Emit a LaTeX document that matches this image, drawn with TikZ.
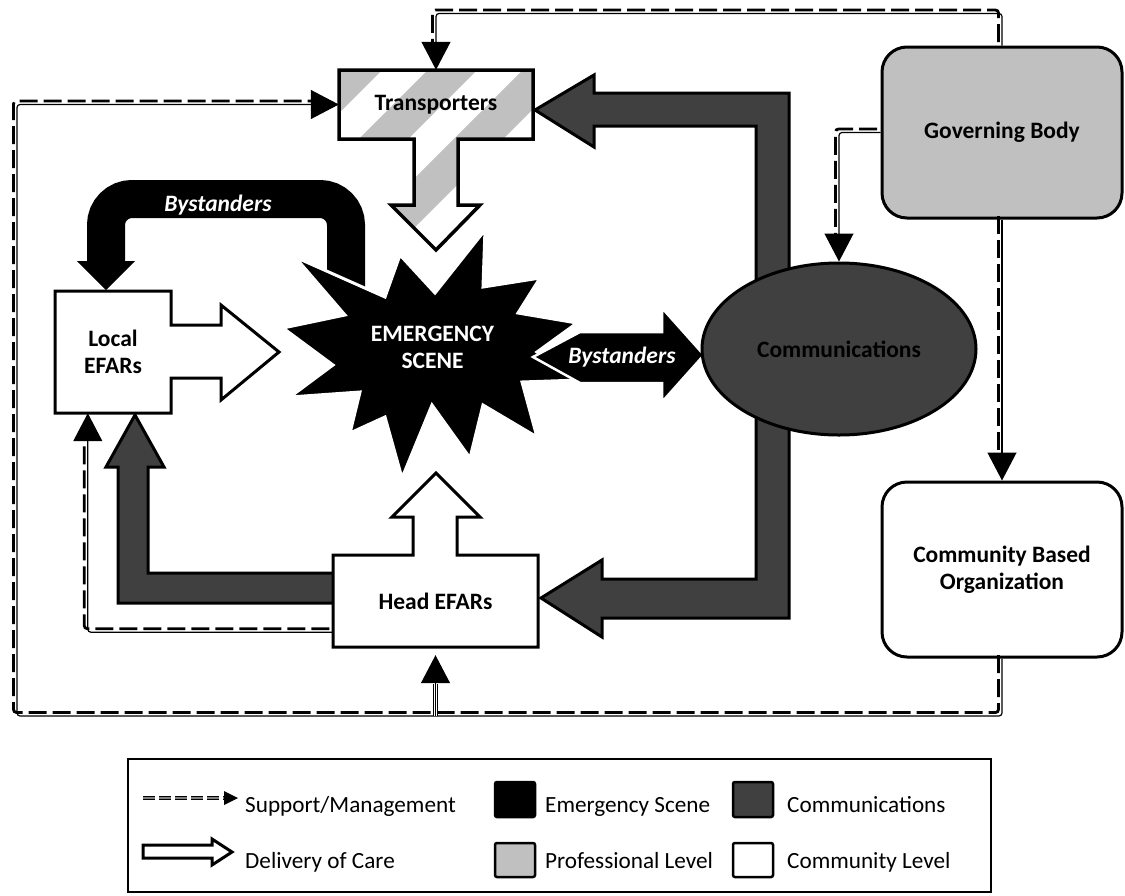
\documentclass[tikz,border=0pt]{standalone}
\usepackage{fontspec}
\setmainfont{Carlito}
\usetikzlibrary{arrows.meta,shapes.geometric,calc}
\definecolor{lgray}{HTML}{C0C0C0}
\definecolor{dgray}{HTML}{404040}
\tikzset{
 lbl/.style={font=\fontsize{23.5}{27}\selectfont\bfseries, align=center, inner sep=0pt},
 ltxt/.style={font=\fontsize{23.2}{27}\selectfont, anchor=base west, inner sep=0pt},
 shapeline/.style={draw=black, line width=3pt, line join=miter},
 supthin/.style={line width=1.2pt, rounded corners=3pt},
 supdash/.style={line width=2.8pt, dash pattern=on 18pt off 6pt, rounded corners=3pt},
 suptip/.style={-{Triangle[length=28pt,width=29pt]}},
 keysq/.style={draw=black, line width=2.5pt, rounded corners=2pt},
}
\newcommand\suplink[2][]{%
  \draw[supdash, shorten >=22pt, transform canvas={shift={(-3.5pt,3.5pt)}}, #1] #2;
  \draw[supthin, suptip, #1] #2;}
\begin{document}
\begin{tikzpicture}[x=1pt,y=-1pt]
\useasboundingbox (0,0) rectangle (1125,895);
\fill[white] (0,0) rectangle (1125,895);

% communications arrows (behind ellipse)
\draw[shapeline, fill=dgray] (756,300) -- (756,126) -- (594,126) -- (594,147) -- (535,110) -- (594,75) -- (594,93) -- (789,93) -- (789,300) -- cycle;
\draw[shapeline, fill=dgray] (756,400) -- (756,579) -- (602,579) -- (602,560) -- (541,598) -- (602,637) -- (602,618) -- (789,618) -- (789,400) -- cycle;
\draw[shapeline, fill=dgray] (340,573) -- (148,573) -- (148,467) -- (164,467) -- (135,415) -- (106,467) -- (118,467) -- (118,603) -- (340,603) -- cycle;

% bystanders curved arrow
\draw[line width=38pt, rounded corners=26pt] (346,288) -- (346,199) -- (106,199) -- (106,262);
\fill (77,261) -- (135,261) -- (106,290) -- cycle;
\node[lbl, text=white, font=\fontsize{23.5}{27}\selectfont\bfseries\itshape] (bys1) at (218,205) {Bystanders};

% emergency scene starburst
\draw[white, line width=3pt, fill=black, line join=miter] (295,257) -- (385,297) -- (400,255) -- (435,293) -- (485,230) -- (483,287) -- (540,278) -- (518,313) -- (577,323) -- (537,352) -- (580,380) -- (522,382) -- (537,437) -- (483,405) -- (470,458) -- (432,405) -- (402,478) -- (385,417) -- (350,433) -- (360,392) -- (290,397) -- (333,365) -- (283,328) -- (345,315) -- cycle;
\node[lbl, text=white] (scene) at (432.5,347) {EMERGENCY\\SCENE};

% bystanders arrow to communications
\draw[white, line width=2.5pt, fill=black, line join=miter] (580,332) -- (662,332) -- (662,308) -- (704,355) -- (662,402) -- (662,383) -- (580,383) -- (533,357) -- cycle;
\node[lbl, text=white, font=\fontsize{23.5}{27}\selectfont\bfseries\itshape] (bys2) at (622,357) {Bystanders};

% communications ellipse
\node[ellipse, draw, line width=3pt, fill=dgray, minimum width=274pt, minimum height=172pt, lbl, text=black] (comm) at (839,349) {Communications};

% transporters
\begin{scope}
\clip (339,70) -- (533,70) -- (533,139) -- (458,139) -- (458,205) -- (480,205) -- (436,250) -- (391,205) -- (414,205) -- (414,139) -- (339,139) -- cycle;
\fill[lgray] (330,60) rectangle (540,260);
\foreach \c in {380,475,570,665,760} \draw[white, line width=32pt] (\c-300,300) -- (\c+100,-100);
\end{scope}
\draw[shapeline, line width=3.5pt] (339,70) -- (533,70) -- (533,139) -- (458,139) -- (458,205) -- (480,205) -- (436,250) -- (391,205) -- (414,205) -- (414,139) -- (339,139) -- cycle;
\node[lbl, minimum width=194pt, minimum height=69pt] (trans) at (436,104.5) {Transporters};

% local EFARs
\draw[shapeline, fill=white] (55,291) -- (171,291) -- (171,325) -- (221,325) -- (221,305) -- (279,352) -- (221,400) -- (221,378) -- (171,378) -- (171,413) -- (55,413) -- cycle;
\node[lbl, minimum width=116pt, minimum height=122pt] (local) at (113,352) {Local\\EFARs};

% head EFARs
\draw[shapeline, fill=white] (333,647) -- (333,555) -- (413,555) -- (413,517) -- (392,517) -- (436,473) -- (480,517) -- (457,517) -- (457,555) -- (538,555) -- (538,647) -- cycle;
\node[lbl, minimum width=205pt, minimum height=92pt] (head) at (435.5,601) {Head EFARs};

% governing body and CBO
\node[lbl, draw, line width=3pt, fill=lgray, rounded corners=25pt, minimum width=240pt, minimum height=171pt] (gb) at (1002,132.5) {Governing Body};
\node[lbl, draw, line width=3pt, fill=white, rounded corners=25pt, minimum width=240pt, minimum height=175pt] (cbo) at (1002,569.5) {Community Based\\Organization};

% support / management links
\coordinate (lpSW) at (17,716);
\suplink{(gb.north) -- ++(0,-32) -| (trans.north)}
\suplink{(gb.west) -| (comm.north)}
\suplink{(gb.south) -- (cbo.north)}
\suplink{(cbo.south) |- (lpSW) |- (trans.west)}
\suplink{([yshift=15pt]head.south west) -| ([xshift=33pt]local.south west)}
\coordinate (brS) at (head.south |- lpSW);
\draw[line width=1.2pt, double, double distance=2.5pt] (brS) -- ++(0,-32);
\draw[supthin, suptip, shorten >=8pt] (brS) -- (head.south);

% legend
\node[draw, line width=2.5pt, minimum width=863pt, minimum height=133pt, inner sep=0pt] (legend) at (559.5,825.5) {};
\coordinate (ls1) at (143,798);
\coordinate (ls2) at (238,798);
\draw[line width=1.2pt, double=gray, double distance=2pt, dash pattern=on 12pt off 4pt] (ls1) -- ($(ls2)+(-13,0)$);
\fill (ls2) -- ++(-14,-7) -- ++(0,14) -- cycle;
\draw[line width=3pt, fill=white, line join=miter] (143,845) -- (212,845) -- (212,839) -- (232,852) -- (212,865) -- (212,858) -- (143,858) -- cycle;
\draw[keysq, fill=black] (495,782) rectangle (535,817);
\draw[keysq, fill=dgray] (733,782) rectangle (773,817);
\draw[keysq, fill=lgray] (495,843) rectangle (535,877);
\draw[keysq, fill=white] (733,843) rectangle (773,877);
\node[ltxt] (lt1) at (245,812) {Support/Management};
\node[ltxt] (lt2) at (245,868) {Delivery of Care};
\node[ltxt] (lt3) at (545,812) {Emergency Scene};
\node[ltxt] (lt4) at (545,868) {Professional Level};
\node[ltxt] (lt5) at (787,812) {Communications};
\node[ltxt] (lt6) at (787,868) {Community Level};
\end{tikzpicture}
\end{document}
